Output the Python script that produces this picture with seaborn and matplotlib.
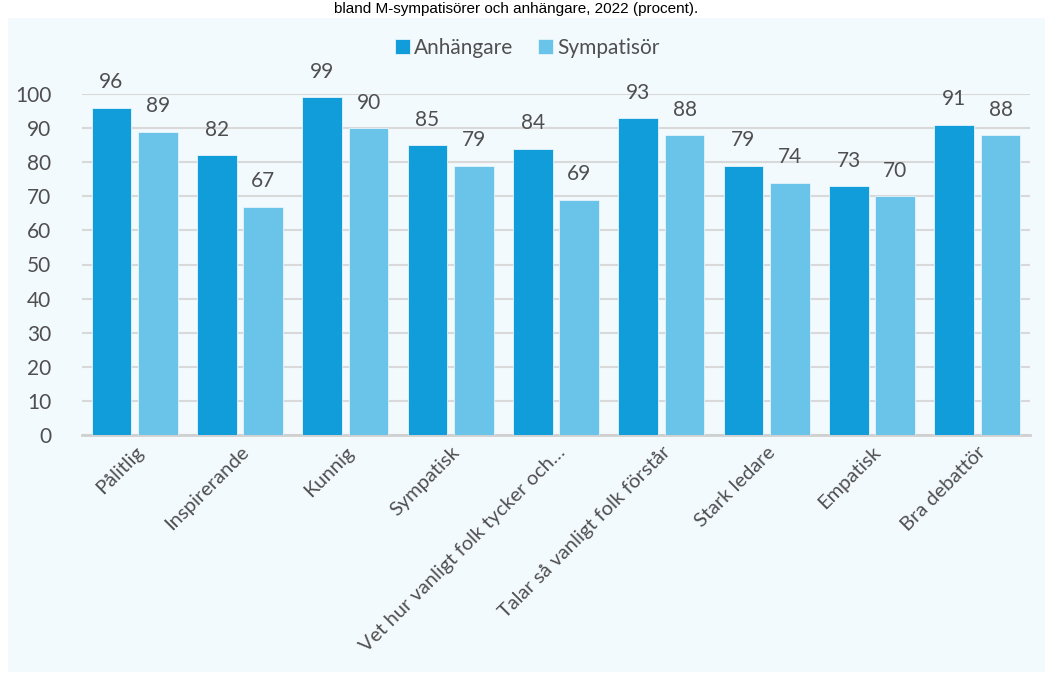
import pandas as pd
import numpy as np
import matplotlib
matplotlib.use("Agg")
import matplotlib.pyplot as plt
import seaborn as sns
from matplotlib.patches import Rectangle

# --- data ---
egenskaper = ['Pålitlig', 'Inspirerande', 'Kunnig', 'Sympatisk',
              'Vet hur vanligt folk tycker och…', 'Talar så vanligt folk förstår',
              'Stark ledare', 'Empatisk', 'Bra debattör']
anhangare = [96, 82, 99, 85, 84, 93, 79, 73, 91]
sympatisor = [89, 67, 90, 79, 69, 88, 74, 70, 88]
grupper = ['Anhängare', 'Sympatisör']
farger = ['#119DD9', '#6AC3E8']
title_text = 'bland M-sympatisörer och anhängare, 2022 (procent).'

df = pd.DataFrame({
    'egenskap': egenskaper * 2,
    'grupp': [grupper[0]] * len(egenskaper) + [grupper[1]] * len(egenskaper),
    'andel': anhangare + sympatisor,
})

sns.set_theme(style='white')
plt.rcParams['font.family'] = ['Lato', 'DejaVu Sans']
textfarg = '#4F4F4F'

fig = plt.figure(figsize=(10.53, 6.81), dpi=100, facecolor='white')
# ljusblå panel bakom diagrammet
fig.patches.append(Rectangle((8 / 1053, 1 - 672 / 681), 1037 / 1053, 654 / 681,
                             transform=fig.transFigure, facecolor='#F3FAFE',
                             edgecolor='none', zorder=-5))
# rubrik (avklippt i originalet) i den vita remsan överst
fig.text(0.49, 1 - 9 / 681, title_text, ha='center', va='center',
         fontsize=11, color='black', family=['Liberation Sans', 'DejaVu Sans'])

ax = fig.add_axes([82 / 1053, 1 - 435 / 681, 948 / 1053, 341 / 681])
ax.set_facecolor('none')
ax.set_zorder(2)

sns.barplot(data=df, x='egenskap', y='andel', hue='grupp', palette=farger,
            saturation=1, width=0.88, gap=0.15, ax=ax, edgecolor='#E6F4FB',
            linewidth=0.6, zorder=3)

ax.set_ylim(0, 100)
ax.set_yticks(np.arange(0, 101, 10))
ax.yaxis.grid(True, color='#D9D9D9', linewidth=1.5, zorder=0)
ax.set_axisbelow(True)
for s in ['top', 'right', 'left']:
    ax.spines[s].set_visible(False)
ax.spines['bottom'].set_color('#D0D0D0')
ax.spines['bottom'].set_linewidth(2)
ax.set_xlabel('')
ax.set_ylabel('')
ax.tick_params(axis='y', length=0, pad=22, labelsize=15, labelcolor=textfarg)
ax.tick_params(axis='x', length=0, pad=6, labelsize=14.5, labelcolor=textfarg)
plt.setp(ax.get_xticklabels(), rotation=45, ha='right', rotation_mode='anchor')

for cont in ax.containers:
    ax.bar_label(cont, fmt='%d', padding=11, fontsize=15, color=textfarg)

leg = ax.legend(loc='upper center', bbox_to_anchor=(0.47, 1.22), ncol=2,
                frameon=False, fontsize=15, handlelength=0.7, handleheight=0.7,
                handletextpad=0.2, columnspacing=1.2)
for t in leg.get_texts():
    t.set_color(textfarg)

fig.savefig('out.png', dpi=100, facecolor=fig.get_facecolor())
